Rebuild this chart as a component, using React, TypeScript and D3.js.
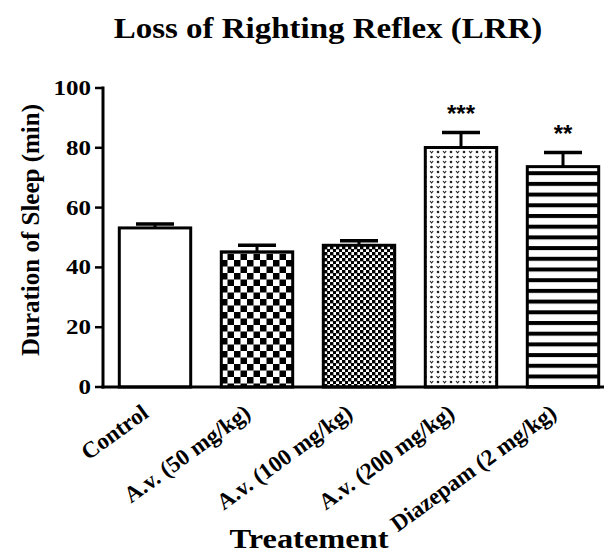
import React, { useEffect, useRef } from 'react';
import * as d3 from 'd3';

const categories = ["Control", "A.v. (50 mg/kg)", "A.v. (100 mg/kg)", "A.v. (200 mg/kg)", "Diazepam (2 mg/kg)"];
const means = [53.2, 45.2, 47.4, 80.1, 73.7];
const sems = [1.3, 2.2, 1.5, 5.0, 4.7];
const stars = ["", "", "", "***", "**"];
const fills = ["#fff", "url(#checkLarge)", "url(#checkSmall)", "url(#stipple)", "url(#stripes)"];
const yTicks = [0, 20, 40, 60, 80, 100];

const SERIF = "'Liberation Serif', 'Times New Roman', serif";

function App() {
  const chartRef = useRef<SVGSVGElement>(null);

  useEffect(() => {
    const svg = d3.select(chartRef.current);
    svg.selectAll("*").remove();

    const x = d3.scaleBand<string>()
      .domain(categories)
      .range([104, 614])
      .paddingInner(0.3)
      .paddingOuter(0.15);

    const y = d3.scaleLinear()
      .domain([0, 100])
      .range([387, 88]);

    // fill patterns
    const defs = svg.append("defs");

    const big = defs.append("pattern").attr("id", "checkLarge")
      .attr("patternUnits", "userSpaceOnUse").attr("width", 13).attr("height", 13);
    big.append("rect").attr("width", 13).attr("height", 13).attr("fill", "#fff");
    big.append("rect").attr("width", 6.5).attr("height", 6.5).attr("fill", "#000");
    big.append("rect").attr("x", 6.5).attr("y", 6.5).attr("width", 6.5).attr("height", 6.5).attr("fill", "#000");

    const small = defs.append("pattern").attr("id", "checkSmall")
      .attr("patternUnits", "userSpaceOnUse").attr("width", 6).attr("height", 6);
    small.append("rect").attr("width", 6).attr("height", 6).attr("fill", "#fff");
    small.append("rect").attr("width", 3.4).attr("height", 3.4).attr("fill", "#000");
    small.append("rect").attr("x", 3).attr("y", 3).attr("width", 3.4).attr("height", 3.4).attr("fill", "#000");

    const stip = defs.append("pattern").attr("id", "stipple")
      .attr("patternUnits", "userSpaceOnUse").attr("width", 13).attr("height", 10);
    stip.append("rect").attr("width", 13).attr("height", 10).attr("fill", "#fff");
    [[1, 1], [7.5, 6]].forEach(([px, py]) => {
      stip.append("path").attr("d", `M${px},${py} l1.6,1.8 l1.6,-1.8`)
        .attr("fill", "none").attr("stroke", "#222").attr("stroke-width", 1.1);
    });
    [[9, 2], [2.5, 7]].forEach(([px, py]) => {
      stip.append("circle").attr("cx", px).attr("cy", py).attr("r", 1.3).attr("fill", "#222");
    });

    const stripes = defs.append("pattern").attr("id", "stripes")
      .attr("patternUnits", "userSpaceOnUse").attr("width", 10).attr("height", 10.7);
    stripes.append("rect").attr("width", 10).attr("height", 10.7).attr("fill", "#fff");
    stripes.append("rect").attr("width", 10).attr("height", 4).attr("fill", "#000");

    // title
    svg.append("text")
      .attr("transform", "translate(328,38) scale(1.1,1)")
      .attr("text-anchor", "middle")
      .style("font-family", SERIF)
      .style("font-weight", "bold")
      .style("font-size", "30px")
      .text("Loss of Righting Reflex (LRR)");

    // bars
    svg.selectAll(".bar")
      .data(categories)
      .enter().append("rect")
      .attr("class", "bar")
      .attr("x", d => x(d)!)
      .attr("y", (d, i) => y(means[i]))
      .attr("width", x.bandwidth())
      .attr("height", (d, i) => y(0) - y(means[i]))
      .attr("fill", (d, i) => fills[i])
      .attr("stroke", "#000")
      .attr("stroke-width", 3);

    // error bars (upper only)
    categories.forEach((c, i) => {
      const cx = x(c)! + x.bandwidth() / 2;
      svg.append("line")
        .attr("x1", cx).attr("x2", cx)
        .attr("y1", y(means[i])).attr("y2", y(means[i] + sems[i]))
        .attr("stroke", "#000").attr("stroke-width", 3);
      svg.append("line")
        .attr("x1", cx - 19).attr("x2", cx + 19)
        .attr("y1", y(means[i] + sems[i])).attr("y2", y(means[i] + sems[i]))
        .attr("stroke", "#000").attr("stroke-width", 3.5);
      if (stars[i]) {
        svg.append("text")
          .attr("x", cx)
          .attr("y", y(means[i] + sems[i]) - 11)
          .attr("text-anchor", "middle")
          .style("font-family", "'Liberation Sans', Arial, sans-serif")
          .style("font-weight", "bold")
          .style("font-size", "24px")
          .text(stars[i]);
      }
    });

    // y axis
    const yAxis = svg.append("g");
    yAxis.append("line")
      .attr("x1", 103).attr("x2", 103)
      .attr("y1", y(100) - 1.5).attr("y2", y(0) + 1.5)
      .attr("stroke", "#000").attr("stroke-width", 3);
    yTicks.forEach(t => {
      yAxis.append("line")
        .attr("x1", 95).attr("x2", 103)
        .attr("y1", y(t)).attr("y2", y(t))
        .attr("stroke", "#000").attr("stroke-width", 2.5);
      yAxis.append("text")
        .attr("transform", `translate(91,${y(t) + 7}) scale(1.25,1)`)
        .attr("text-anchor", "end")
        .style("font-family", SERIF)
        .style("font-weight", "bold")
        .style("font-size", "20px")
        .text(t);
    });

    // x axis
    svg.append("line")
      .attr("x1", 101.5).attr("x2", 604)
      .attr("y1", y(0)).attr("y2", y(0))
      .attr("stroke", "#000").attr("stroke-width", 3);

    categories.forEach(c => {
      const cx = x(c)! + x.bandwidth() / 2;
      svg.append("text")
        .attr("transform", `translate(${cx - 5},${y(0) + 29}) rotate(-36)`)
        .attr("text-anchor", "end")
        .style("font-family", SERIF)
        .style("font-weight", "bold")
        .style("font-size", "23px")
        .text(c);
    });

    svg.append("text")
      .attr("transform", "translate(309,548) scale(1.2,1)")
      .attr("text-anchor", "middle")
      .style("font-family", SERIF)
      .style("font-weight", "bold")
      .style("font-size", "27px")
      .text("Treatement");

    svg.append("text")
      .attr("transform", "translate(39,230) rotate(-90)")
      .attr("text-anchor", "middle")
      .style("font-family", SERIF)
      .style("font-weight", "bold")
      .style("font-size", "25px")
      .text("Duration of Sleep (min)");
  }, []);

  return (
    <svg ref={chartRef} width={604} height={553}
      style={{ position: "absolute", left: 0, top: 0, background: "#fff" }} />
  );
}

export default App;
